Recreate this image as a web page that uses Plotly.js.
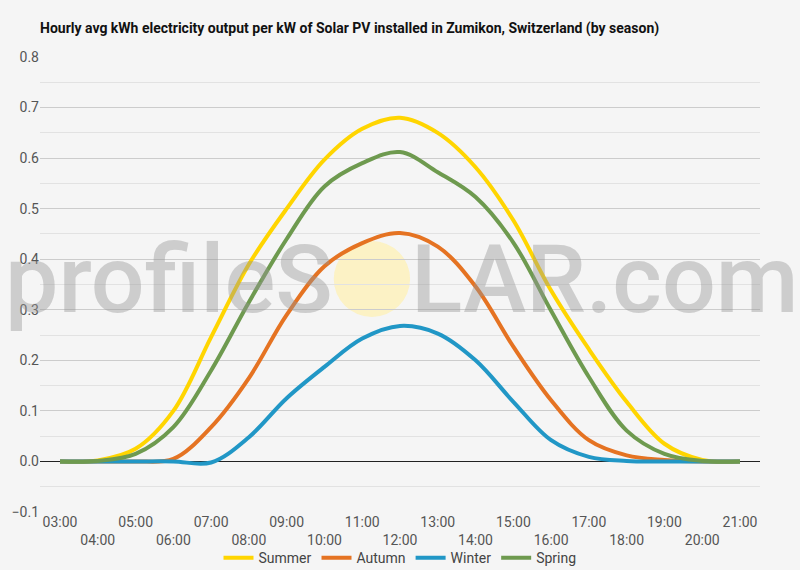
<!DOCTYPE html>
<html>
<head>
<meta charset="utf-8">
<script src="https://cdn.plot.ly/plotly-3.0.1.min.js"></script>
<style>
html,body{margin:0;padding:0;background:#f5f5f5;}
#chart{width:800px;height:570px;}
</style>
</head>
<body>
<div id="chart"></div>
<script>
const hourLabels = ["03:00","04:00","05:00","06:00","07:00","08:00","09:00","10:00","11:00","12:00","13:00","14:00","15:00","16:00","17:00","18:00","19:00","20:00","21:00"];
const summer = [0, 0.002, 0.025, 0.10, 0.246, 0.39, 0.5, 0.597, 0.658, 0.68, 0.65, 0.582, 0.477, 0.338, 0.222, 0.118, 0.035, 0.003, 0];
const autumn = [0, 0, 0, 0.005, 0.068, 0.165, 0.29, 0.386, 0.432, 0.452, 0.425, 0.346, 0.227, 0.121, 0.042, 0.012, 0.003, 0, 0];
const winter = [0, 0, 0, 0, -0.002, 0.048, 0.125, 0.187, 0.243, 0.268, 0.253, 0.2, 0.118, 0.042, 0.009, 0.001, 0, 0, 0];
const spring = [0, 0.001, 0.015, 0.068, 0.18, 0.315, 0.44, 0.544, 0.59, 0.612, 0.572, 0.523, 0.433, 0.298, 0.167, 0.061, 0.015, 0.001, 0];
const seriesNames = ["Summer","Autumn","Winter","Spring"];
const seriesColors = ["#ffd500","#e57322","#2197c6","#6e9a4f"];
const seriesValues = [summer, autumn, winter, spring];

const traces = seriesValues.map((vals, i) => ({
  type: "scatter",
  mode: "lines",
  name: seriesNames[i],
  x: hourLabels,
  y: vals,
  line: {color: seriesColors[i], width: 4, shape: "spline", smoothing: 1}
}));

const tickText = hourLabels.map((l, i) => (i % 2 === 1 ? "<br>" + l : l));

const layout = {
  width: 800,
  height: 570,
  paper_bgcolor: "#f5f5f5",
  plot_bgcolor: "#f5f5f5",
  margin: {l: 40, r: 40, t: 57, b: 58, autoexpand: false},
  font: {family: "Roboto, sans-serif", size: 14, color: "#555"},
  title: {
    text: "<b>Hourly avg kWh electricity output per kW of Solar PV installed in Zumikon, Switzerland (by season)</b>",
    font: {family: "Roboto, sans-serif", size: 14, color: "#111"},
    xref: "container", yref: "container",
    x: 0.05, xanchor: "left", y: 0.951, yanchor: "middle"
  },
  xaxis: {
    type: "category",
    automargin: false,
    range: [-0.53, 18.53],
    tickvals: hourLabels,
    ticktext: tickText,
    tickangle: 0,
    showgrid: false,
    showline: false,
    ticks: "",
    zeroline: false,
    tickfont: {size: 14, color: "#555"}
  },
  yaxis: {
    automargin: false,
    range: [-0.1, 0.8],
    dtick: 0.1,
    tick0: 0,
    tickformat: ".1f",
    showgrid: true,
    gridcolor: "#cccccc",
    gridwidth: 1,
    zeroline: true,
    zerolinecolor: "#222",
    zerolinewidth: 1,
    ticks: "",
    tickfont: {size: 14, color: "#555"},
    minor: {dtick: 0.05, showgrid: true, gridcolor: "#e2e2e2", gridwidth: 1}
  },
  legend: {
    orientation: "h",
    x: 0.5, xanchor: "center",
    y: -0.066, yanchor: "top",
    font: {size: 14, color: "#444"},
    bgcolor: "rgba(0,0,0,0)",
    itemwidth: 30
  },
  shapes: [{
    type: "circle", xref: "paper", yref: "paper",
    x0: 0.408, x1: 0.514, y0: 0.4286, y1: 0.5956,
    fillcolor: "rgba(255,240,170,0.65)",
    line: {width: 0},
    layer: "below"
  }],
  annotations: [
    {text: "profileS", xref: "paper", yref: "paper", x: 0.41, xanchor: "right", y: 0.51, yanchor: "middle",
     showarrow: false, font: {family: "Roboto, sans-serif", size: 95, weight: 500, color: "rgba(150,150,150,0.42)"}},
    {text: "LAR.com", xref: "paper", yref: "paper", x: 0.512, xanchor: "left", y: 0.51, yanchor: "middle",
     showarrow: false, font: {family: "Roboto, sans-serif", size: 95, weight: 500, color: "rgba(150,150,150,0.42)"}}
  ],
  showlegend: true
};

Plotly.newPlot("chart", traces, layout, {displayModeBar: false, staticPlot: true});
</script>
</body>
</html>
